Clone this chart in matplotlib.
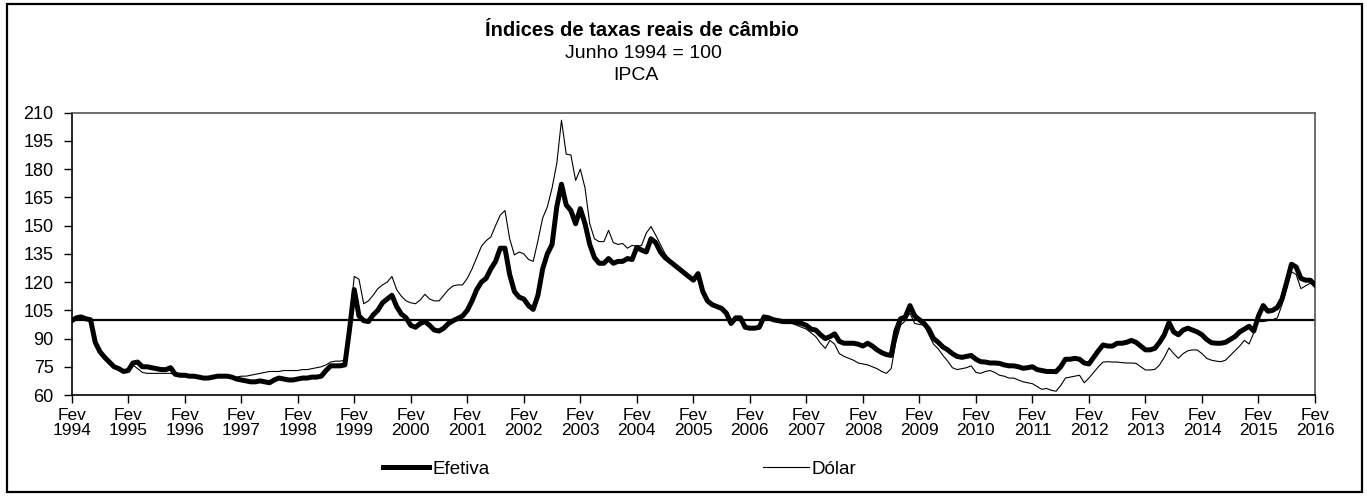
import matplotlib

matplotlib.use("Agg")
import matplotlib.pyplot as plt
from matplotlib.lines import Line2D
from matplotlib.patches import Rectangle
import numpy as np

plt.rcParams["font.family"] = ["Liberation Sans", "DejaVu Sans"]

W, H = 1367, 496

YEARS = list(range(1994, 2017))
TICK_LABELS = [f"Fev\n{y}" for y in YEARS]
Y_TICKS = list(range(60, 211, 15))

# monthly values, one row per year: Feb .. Jan of next year
EFETIVA = [
    99.5, 101, 101.5, 100.5, 100, 88, 83, 80, 77.5, 75, 74, 72.5,            # 1994
    73, 77, 77.5, 75, 75, 74.5, 74, 73.5, 73.5, 74.5, 71, 70.5,              # 1995
    70.5, 70, 70, 69.5, 69, 69, 69.5, 70, 70, 70, 69.5, 68.5,                # 1996
    68, 67.5, 67, 67, 67.5, 67, 66.5, 68, 69, 68.5, 68, 68,                  # 1997
    68.5, 69, 69, 69.5, 69.5, 70, 73, 75.5, 75.5, 75.5, 76, 95,              # 1998
    116, 102, 99.5, 99, 102.5, 105, 109, 111, 113, 107, 103, 101,            # 1999
    97, 96, 98, 99, 97, 94.5, 94, 95.5, 98, 99.5, 100.7, 102,                # 2000
    105, 110, 116, 120, 122, 127, 131, 138, 138, 124, 115, 112,              # 2001
    111, 107.5, 105.5, 113, 127, 135, 140, 160, 172, 161, 158, 151,          # 2002
    159, 151, 140, 133, 130, 130, 132.5, 130, 131, 131, 132.5, 132,          # 2003
    138.5, 137, 136, 143, 141, 136, 133, 131, 129, 127, 125, 123,            # 2004
    121, 124.5, 115, 110, 108, 107, 106, 103.5, 98, 101, 101, 96,            # 2005
    95.5, 95.5, 96, 101.5, 101, 100, 99.5, 99, 99, 99, 98.5, 98,             # 2006
    97, 95, 94.5, 92, 90, 91, 92.5, 88.5, 87.5, 87.5, 87.5, 87,              # 2007
    86, 87.5, 86, 84, 82.5, 81.5, 81, 94, 100.5, 101.5, 107.5, 102,          # 2008
    100, 98, 95, 90, 88, 85.5, 84, 82, 80.5, 80, 80.5, 81,                   # 2009
    79, 77.7, 77.5, 77, 77, 76.8, 76, 75.5, 75.5, 75, 74.2, 74.5,            # 2010
    75, 73.5, 73, 72.5, 72.5, 72.4, 75, 79, 79, 79.5, 79, 77,                # 2011
    76.5, 80, 83.5, 86.6, 86, 86, 87.5, 87.5, 88, 89, 88, 86,                # 2012
    84, 84, 84.8, 88, 92, 98.5, 93.5, 92, 94.5, 95.5, 94.5, 93.5,            # 2013
    92, 89.5, 87.8, 87.5, 87.5, 88, 89.5, 91, 93.5, 95, 96.5, 94,            # 2014
    102, 107.5, 104.5, 105, 106.5, 111, 120, 129.5, 128, 122, 121, 121,      # 2015
    118.5,                                                                    # Feb 2016
]

DOLAR = [
    99.5, 101, 101.5, 100.5, 100, 88, 83, 80, 77.5, 75, 74, 72.5,            # 1994
    73, 76, 74, 72, 71.5, 71.5, 71.5, 71.5, 71.5, 71.5, 70.5, 70.5,          # 1995
    70.5, 70, 70, 69.5, 69, 69, 69.5, 70, 70, 70, 69.5, 69.5,                # 1996
    70, 70, 70.5, 71, 71.5, 72, 72.5, 72.5, 72.5, 73, 73, 73,                # 1997
    73, 73.5, 73.5, 74, 74.5, 75, 76, 77.5, 78, 78, 78.5, 100,               # 1998
    123, 121.5, 108.5, 110, 113, 116.5, 118.5, 120, 123, 116, 112.5, 110,    # 1999
    109, 108.5, 110.5, 113.5, 111, 110, 110, 113, 116, 118, 118.5, 118.5,    # 2000
    122, 127, 133, 139, 142, 144, 150, 155.6, 158, 143, 134.4, 136,          # 2001
    135, 132, 131, 142, 154, 160, 170, 183, 206, 188, 187.5, 174,            # 2002
    180, 170, 151, 143, 141.5, 141.5, 147.5, 141, 140, 140.5, 138, 139.5,    # 2003
    139, 139.5, 146, 149.5, 145, 140, 135, 132, 129.5, 128, 125.5, 123,      # 2004
    121.5, 124.5, 115.5, 110, 108, 107, 106, 103.5, 98, 101, 101, 96,        # 2005
    95.5, 95.5, 96, 101.5, 101, 100, 99.5, 98.5, 98, 98, 97, 96,             # 2006
    95, 93, 91, 87.5, 84.8, 89, 87, 82, 80.5, 79.5, 78.5, 77,                # 2007
    76.5, 76, 75, 74, 72.5, 71.5, 74, 88, 97, 99.5, 103.5, 98,               # 2008
    97.5, 97, 92, 87, 84.5, 81, 78, 74.5, 73.5, 74, 74.5, 75.5,              # 2009
    72, 71.5, 72.5, 73, 72, 70.5, 70, 69, 69, 68, 67, 66.5,                  # 2010
    66, 64.5, 63, 63.5, 62.5, 62, 65, 69, 69.5, 70, 70.5, 66.5,              # 2011
    69, 72, 75, 77.5, 77.7, 77.5, 77.5, 77.2, 77, 77, 76.8, 75,              # 2012
    73.3, 73.3, 73.6, 76, 80, 85, 82, 79.5, 82, 83.5, 84, 83.9,              # 2013
    82, 79.5, 78.5, 78, 77.7, 78.5, 81, 83.5, 86, 89, 87.1, 93,              # 2014
    99, 99, 99.5, 100, 101, 108, 117, 125.5, 124, 116.5, 118, 119.4,         # 2015
    118,                                                                      # Feb 2016
]

months = np.arange(len(EFETIVA))

fig = plt.figure(figsize=(W / 100, H / 100), dpi=100)
# outer chart frame
fig.patches.append(Rectangle((7 / W, 1 - 492 / H), (1362 - 7) / W, (492 - 4) / H,
                             transform=fig.transFigure, fill=False, edgecolor="black", lw=1.6))

ax = fig.add_axes([71.7 / W, 1 - 395 / H, (1315 - 71.7) / W, (395 - 112.7) / H])
ax.plot(months, DOLAR, color="black", lw=0.8, label="Dólar", zorder=3)
ax.plot(months, EFETIVA, color="black", lw=3.6, label="Efetiva", zorder=4,
        solid_joinstyle="round")
ax.axhline(100, color="black", lw=1.6, zorder=2)

ax.set_xlim(0, 264)
ax.set_ylim(60, 210)
ax.set_xticks(np.arange(0, 265, 12))
ax.set_xticklabels(TICK_LABELS, fontsize=12.5, linespacing=1.05)
ax.set_yticks(Y_TICKS)
ax.set_yticklabels([str(v) for v in Y_TICKS], fontsize=13)
ax.tick_params(axis="x", length=6, width=1, pad=3, direction="out")
ax.tick_params(axis="y", length=6, width=1, pad=7, direction="out")
for s in ("left", "bottom"):
    ax.spines[s].set_color("black")
    ax.spines[s].set_linewidth(1.2)
for s in ("top", "right"):
    ax.spines[s].set_color("#555555")
    ax.spines[s].set_linewidth(1.2)

fig.text(642 / W, 1 - 31 / H, "Índices de taxas reais de câmbio", ha="center", va="center",
         fontsize=14.5, fontweight="bold")
fig.text(643 / W, 1 - 53 / H, "Junho 1994 = 100", ha="center", va="center", fontsize=14)
fig.text(636 / W, 1 - 75 / H, "IPCA", ha="center", va="center", fontsize=14)

handles = [Line2D([], [], color="black", lw=3.6), Line2D([], [], color="black", lw=0.8)]
fig.legend(handles, ["Efetiva", "Dólar"], loc="center", bbox_to_anchor=(620 / W, 1 - 469 / H),
           ncol=2, frameon=False, fontsize=13.5, handlelength=2.45, handletextpad=0.15,
           columnspacing=14.6, borderpad=0, borderaxespad=0)

fig.savefig("out.png", dpi=100)
